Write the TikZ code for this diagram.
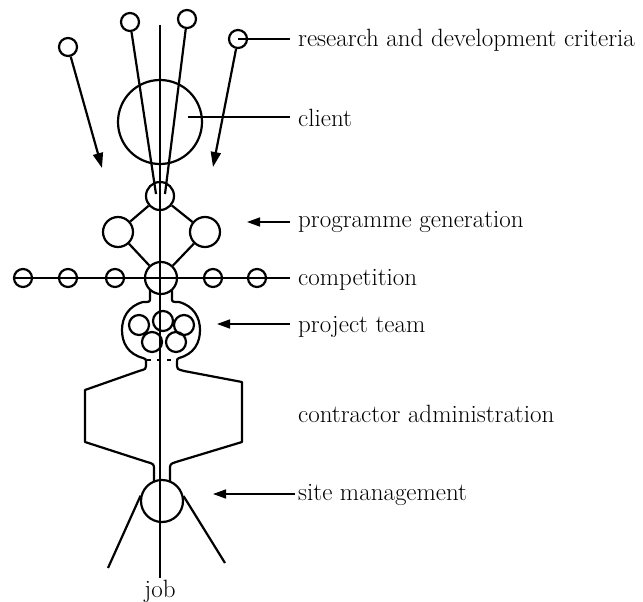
\documentclass[tikz,border=0pt]{standalone}
\usepackage{fontspec}
\usetikzlibrary{arrows.meta}
\begin{document}
\begin{tikzpicture}[x=1pt,y=-1pt,
  ln/.style={line width=2.2pt},
  thin ln/.style={line width=1.5pt},
  circ/.style={circle,draw,line width=2.2pt,inner sep=0pt,minimum size=#1},
  arr/.style={line width=1.5pt,-{Triangle[length=13pt,width=9pt]}},
  bigarr/.style={line width=2.2pt,-{Triangle[length=15pt,width=10pt]}},
  lab/.style={anchor=base west,inner sep=0pt,font=\fontsize{25}{29}\selectfont}]
\useasboundingbox (0,0) rectangle (643,602);
% top small circles
\node[circ=18pt] (rd1) at (68,47) {};
\node[circ=18pt] (rd2) at (130,22) {};
\node[circ=18pt] (rd3) at (187,19) {};
\node[circ=18pt] (rd4) at (238,39) {};
% client
\node[circ=84pt] (client) at (160,122) {};
% programme generation
\node[circ=28pt] (pgt) at (160,196) {};
\node[circ=30pt] (pgl) at (118,232) {};
\node[circ=30pt] (pgr) at (205,232) {};
\node[circ=32pt] (comp) at (161,278) {};
% competition circles
\node[circ=18pt] (c1) at (23,278) {};
\node[circ=18pt] (c2) at (68,278) {};
\node[circ=18pt] (c3) at (115,278) {};
\node[circ=18pt] (c4) at (213,278) {};
\node[circ=18pt] (c5) at (257,278) {};
% project team circles
\node[circ=20pt] (t1) at (139,325) {};
\node[circ=20pt] (t2) at (163,321) {};
\node[circ=20pt] (t3) at (184,325) {};
\node[circ=20pt] (t4) at (152,342) {};
\node[circ=20pt] (t5) at (176,342) {};
% site
\node[circ=42pt] (site) at (162,501) {};
% coordinates
\coordinate (vtop) at (160,25);
\coordinate (vbot) at (160,578);
\coordinate (rd2end) at (156,194);
\coordinate (rd3end) at (165,194);
\coordinate (arrL) at (102,168);
\coordinate (arrR) at (213,167);
\coordinate (legL) at (108,568);
\coordinate (legR) at (225,563);
% labels
\node[lab] (lrd) at (298,47) {research and development criteria};
\node[lab] (lcl) at (298,126) {client};
\node[lab] (lpg) at (298,227) {programme generation};
\node[lab] (lco) at (298,285) {competition};
\node[lab] (lpt) at (298,332) {project team};
\node[lab] (lca) at (298,422) {contractor administration};
\node[lab] (lsm) at (298,500) {site management};
\node[anchor=base,inner sep=0pt,font=\fontsize{25}{29}\selectfont] (job) at (160,597) {job};
% main vertical
\draw[ln] (vtop) -- (vbot);
% lines into programme top
\draw[ln] (rd2) -- (rd2end);
\draw[ln] (rd3) -- (rd3end);
% arrows from outer circles
\draw[bigarr] (rd1) -- (arrL);
\draw[bigarr] (rd4) -- (arrR);
% diamond
\draw[ln] (pgt) -- (pgl);
\draw[ln] (pgt) -- (pgr);
\draw[ln] (pgl) -- (comp);
\draw[ln] (pgr) -- (comp);
% competition line
\draw[ln] (c1.west) -- (290,278);
% label connectors
\draw[thin ln] (rd4.center) -- (290,39);
\draw[thin ln] ([shift={(28,-5)}]client.center) -- (290,117);
\draw[arr] (290,222) -- (247,222);
\draw[arr] (290,324) -- (217,324);
\draw[arr] (295,494) -- (213,494);
% body outline left
\draw[ln,line join=round] (150,290) -- (150,298) .. controls (150,302) .. (143,302)
  .. controls (128,306) and (122,318) .. (122,330)
  .. controls (122,343) and (128,354) .. (143,358)
  .. controls (146,359) .. (146,362) -- (146,366)
  .. controls (146,369) .. (139,371) -- (85,390) -- (85,442) -- (147,462)
  .. controls (154,464) .. (154,470) -- (154,482);
% body outline right
\draw[ln,line join=round] (172,290) -- (172,298) .. controls (172,302) .. (179,302)
  .. controls (194,306) and (200,318) .. (200,330)
  .. controls (200,343) and (194,354) .. (179,358)
  .. controls (177,359) .. (177,362) -- (177,366)
  .. controls (177,369) .. (184,371) -- (242,382) -- (242,442) -- (176,462)
  .. controls (170,464) .. (170,470) -- (170,482);
% dashed closing line
\draw[line width=1.6pt,dash pattern=on 4pt off 6pt] (147,360) -- (177,360);
% legs
\draw[ln] (site.166) -- (legL);
\draw[ln] (site.13) -- (legR);
\end{tikzpicture}
\end{document}
